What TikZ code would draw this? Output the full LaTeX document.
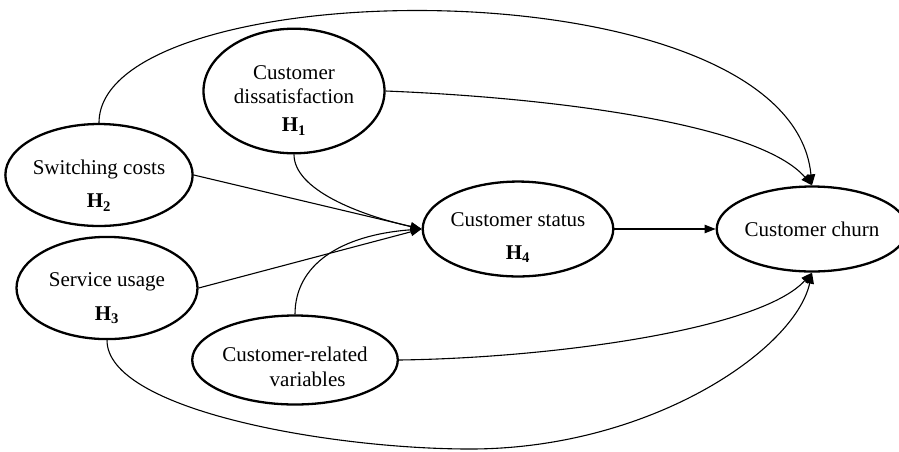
\documentclass[tikz,border=0pt]{standalone}
\usepackage{fontspec}
\setmainfont{Liberation Serif}
\usetikzlibrary{shapes.geometric,arrows.meta}
\begin{document}
\begin{tikzpicture}[x=1pt,y=-1pt,
  var/.style={ellipse, draw, line width=2.3pt, inner sep=0pt, align=center,
    font=\fontsize{21}{24}\selectfont},
  conn/.style={line width=1.1pt, -{Triangle[length=11pt,width=8.5pt]}}]
\useasboundingbox (0,0) rectangle (899,451);
\node[var, minimum width=181pt, minimum height=91pt] (ds) at (294,91)
  {\rule{0pt}{33pt}Customer\\dissatisfaction\\[4pt]\textbf{H\textsubscript{1}}};
\node[var, minimum width=182pt, minimum height=84pt] (sw) at (99,175)
  {\rule{0pt}{36pt}Switching costs\\[9pt]\textbf{H\textsubscript{2}}};
\node[var, minimum width=181pt, minimum height=83pt] (su) at (107,288)
  {\rule{0pt}{35pt}Service usage\\[10pt]\textbf{H\textsubscript{3}}};
\node[var, minimum width=182pt, minimum height=89pt] (cr) at (295,360)
  {\rule{0pt}{29pt}Customer-related\\[1pt]\hspace*{1.2em}variables};
\node[var, minimum width=181pt, minimum height=83pt] (st) at (518,229)
  {\rule{0pt}{31pt}Customer status\\[9pt]\textbf{H\textsubscript{4}}};
\node[var, minimum width=170pt, minimum height=85pt] (ch) at (812,229)
  {Customer churn};
\coordinate (bot) at (470,449);
% to customer status
\draw[conn] (ds.south) .. controls (294,190) and (360,215) .. (st.west);
\draw[conn] (sw.east) -- (st.west);
\draw[conn] (su.east) -- (st.west);
\draw[conn] (cr.north) .. controls (295,265) and (340,235) .. (st.west);
% to churn
\draw[conn] (st.east) -- (ch.west);
\draw[conn] (sw.north) .. controls (99,-30) and (790,-40) .. (ch.north);
\draw[conn] (ds.east) .. controls (560,98) and (760,125) .. (ch.north);
\draw[conn] (cr.east) .. controls (550,358) and (760,330) .. (ch.south);
\draw[conn] (su.south) .. controls (107,410) and (330,449) .. (bot)
  .. controls (650,449) and (795,350) .. (ch.south);
\end{tikzpicture}
\end{document}
